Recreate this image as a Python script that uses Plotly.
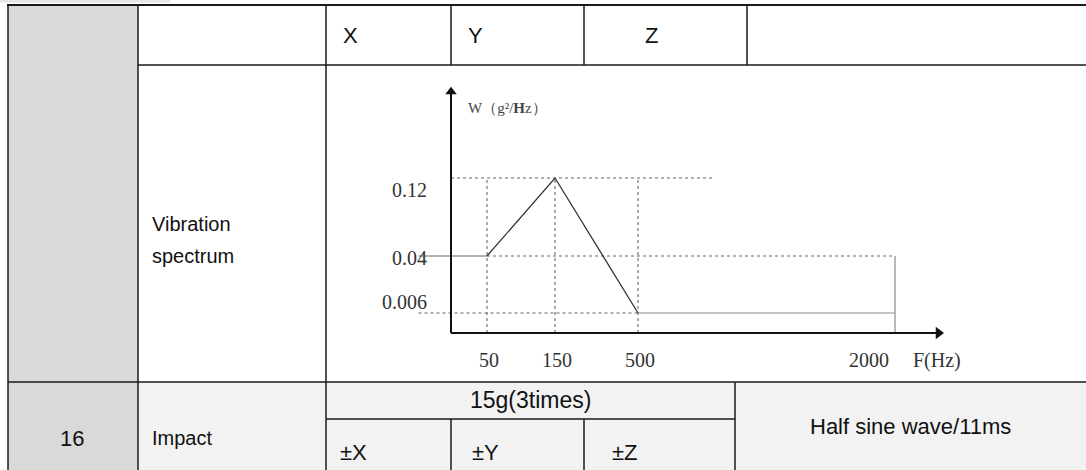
import plotly.graph_objects as go

# vibration spectrum (schematic)
FREQ_LABELS = ["50", "150", "500", "2000"]
FREQ_POS = [7.2, 20.8, 37.4, 88.8]          # schematic positions along F axis
PSD = [0.04, 0.12, 0.006, 0.006]             # g^2/Hz at each frequency
LEVEL_LABELS = ["0.12", "0.04", "0.006"]
LEVEL_POS = [62.0, 30.8, 8.0]                # schematic positions along W axis
LEVEL_OF = dict(zip([0.12, 0.04, 0.006], LEVEL_POS))

# table text
HEAD_AXES = ["X", "Y", "Z"]
ROW_LABEL = ["Vibration", "spectrum"]
IMPACT_NO = "16"
IMPACT_NAME = "Impact"
IMPACT_LEVEL = "15g(3times)"
IMPACT_AXES = ["±X", "±Y", "±Z"]
IMPACT_WAVE = "Half sine wave/11ms"

W, H = 1086, 470
SANS = "Liberation Sans, Arial, sans-serif"
SERIF = "Liberation Serif, Times New Roman, serif"


def px(x):
    return x / W


def py(y):
    return 1 - y / H


fig = go.Figure()

dot = dict(color="#666666", width=1.1, dash="dot")
solid_gray = dict(color="#8a8a8a", width=1.2)
ypsd = [LEVEL_OF[v] for v in PSD]
top = LEVEL_POS[0]
x50, x150, x500, x2000 = FREQ_POS

# guide lines
fig.add_trace(go.Scatter(x=[0, 52.8], y=[top, top], mode="lines", line=dot))
for xv in FREQ_POS[:3]:
    fig.add_trace(go.Scatter(x=[xv, xv], y=[0, top], mode="lines", line=dot))
fig.add_trace(go.Scatter(x=[x50, x2000], y=[LEVEL_POS[1]] * 2, mode="lines", line=dot))
fig.add_trace(go.Scatter(x=[-6.5, x500], y=[LEVEL_POS[2]] * 2, mode="lines", line=dot))
fig.add_trace(go.Scatter(x=[-6.5, x50], y=[LEVEL_POS[1]] * 2, mode="lines",
                         line=dict(color="#666", width=1.2)))
fig.add_trace(go.Scatter(x=[x2000, x2000], y=[0, LEVEL_POS[1]], mode="lines", line=solid_gray))

# spectrum profile
fig.add_trace(go.Scatter(x=FREQ_POS[:3], y=ypsd[:3], mode="lines",
                         line=dict(color="#333", width=1.3)))
fig.add_trace(go.Scatter(x=FREQ_POS[2:], y=ypsd[2:], mode="lines", line=solid_gray))

# axes with arrow heads
fig.add_trace(go.Scatter(x=[0, 0], y=[0, 96], mode="lines",
                         line=dict(color="#111", width=2)))
fig.add_trace(go.Scatter(x=[0], y=[96.5], mode="markers", cliponaxis=False,
                         marker=dict(symbol="triangle-up", size=10, color="#111")))
fig.add_trace(go.Scatter(x=[0, 97], y=[0, 0], mode="lines",
                         line=dict(color="#111", width=2)))
fig.add_trace(go.Scatter(x=[97.5], y=[0], mode="markers", cliponaxis=False,
                         marker=dict(symbol="triangle-right", size=11, color="#111")))

ann = []
cfont = dict(family=SERIF, size=20, color="#333")
lab_shift = [-12, -2, 11]
for lbl, yv, sh in zip(LEVEL_LABELS, LEVEL_POS, lab_shift):
    ann.append(dict(x=0, y=yv, xref="x", yref="y", text=lbl, showarrow=False,
                    xanchor="right", yanchor="middle", xshift=-22, yshift=sh, font=cfont))
for lbl, xv in zip(FREQ_LABELS, FREQ_POS):
    sh = -26 if lbl == "2000" else 2
    ann.append(dict(x=xv, y=0, xref="x", yref="y", text=lbl, showarrow=False,
                    xanchor="center", yanchor="middle", yshift=-27, xshift=sh, font=cfont))
ann.append(dict(x=97.2, y=0, xref="x", yref="y", text="F(Hz)", showarrow=False,
                xanchor="center", yanchor="middle", yshift=-27, font=cfont))
ann.append(dict(x=0, y=96, xref="x", yref="y", text="W（g²/<b>H</b>z）", showarrow=False,
                xanchor="left", yanchor="middle", xshift=15, yshift=-15,
                font=dict(family=SERIF, size=15, color="#444")))


# table text
def label(x, y, t, anchor="left", size=22):
    ann.append(dict(x=px(x), y=py(y), xref="paper", yref="paper", text=t,
                    showarrow=False, xanchor=anchor, yanchor="middle",
                    font=dict(family=SANS, size=size, color="#111")))


for t, x in zip(HEAD_AXES, (341, 466, 643)):
    label(x, 35, t)
for i, t in enumerate(ROW_LABEL):
    label(150, 224 + 32 * i, t, size=20)
label(72, 438, IMPACT_NO, "center")
label(150, 438, IMPACT_NAME, size=20)
label(530, 400, IMPACT_LEVEL, "center", size=23)
for t, x in zip(IMPACT_AXES, (338, 470, 610)):
    label(x, 452, t)
label(910, 426, IMPACT_WAVE, "center")

# table grid
shapes = []


def rect(x0, y0, x1, y1, color):
    shapes.append(dict(type="rect", xref="paper", yref="paper", layer="below",
                       x0=px(x0), x1=px(x1), y0=py(y1), y1=py(y0),
                       fillcolor=color, line=dict(width=0)))


def hline(y, x0, x1, w=1.5):
    shapes.append(dict(type="line", xref="paper", yref="paper",
                       x0=px(x0), x1=px(x1), y0=py(y), y1=py(y),
                       line=dict(color="#1a1a1a", width=w)))


def vline(x, y0, y1, w=1.5):
    shapes.append(dict(type="line", xref="paper", yref="paper",
                       x0=px(x), x1=px(x), y0=py(y0), y1=py(y1),
                       line=dict(color="#1a1a1a", width=w)))


rect(0, 0, 170, 2.5, "#e6e6e6")
rect(8, 5, 138, 470, "#d9d9d9")
rect(138, 382, 1086, 470, "#f2f2f2")
hline(5, 7, 1086, 2)
hline(65, 138, 1086)
hline(382, 8, 1086)
hline(419, 326, 735)
vline(8, 5, 470)
vline(138, 5, 470)
vline(326, 5, 470)
for x in (451, 584, 747):
    vline(x, 5, 65)
for x in (451, 584):
    vline(x, 419, 470)
vline(735, 382, 470)

fig.update_layout(
    width=W, height=H, margin=dict(l=0, r=0, t=0, b=0),
    paper_bgcolor="white", plot_bgcolor="rgba(0,0,0,0)",
    showlegend=False, hovermode=False, annotations=ann, shapes=shapes,
    xaxis=dict(domain=[px(380), px(960)], range=[-14.2, 101.8], visible=False,
               fixedrange=True),
    yaxis=dict(domain=[py(340), py(80)], range=[-2.8, 101.2], visible=False,
               fixedrange=True),
)

# the page body has a default 8px margin; drop it so the figure sits at 0,0
fig.write_html("out.html", config={"displayModeBar": False},
               post_script="document.body.style.margin='0px';")
